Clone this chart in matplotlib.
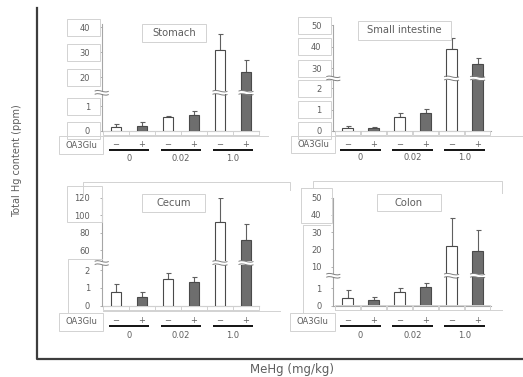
import numpy as np
import matplotlib
matplotlib.use('Agg')
import matplotlib.pyplot as plt
from matplotlib.patches import Rectangle, PathPatch
from matplotlib.path import Path
from matplotlib.lines import Line2D
from matplotlib.transforms import Affine2D, IdentityTransform, blended_transform_factory

# DATA (mean and upper SD per tissue, order: 0-, 0+, 0.02-, 0.02+, 1.0-, 1.0+)
groups = ['0', '0.02', '1.0']
oa3glu = ['\u2212', '+', '\u2212', '+', '\u2212', '+']
stomach = [0.17, 0.21, 0.55, 0.66, 31.0, 22.3]
stomach_sd = [0.10, 0.15, 0.07, 0.13, 6.2, 4.7]
small_int = [0.15, 0.14, 0.64, 0.83, 39.2, 32.0]
small_int_sd = [0.08, 0.05, 0.19, 0.20, 4.8, 2.6]
cecum = [0.78, 0.50, 1.50, 1.34, 91.8, 71.5]
cecum_sd = [0.42, 0.25, 0.33, 0.27, 27.5, 18.3]
colon = [0.45, 0.31, 0.75, 1.04, 22.2, 19.0]
colon_sd = [0.44, 0.16, 0.27, 0.23, 15.9, 12.4]

W, H = 523, 377
TXT = '#5e5e5e'
EDGE = '#4a4a4a'
DARK = '#6e6e6e'
BOX = '#d2d2d2'
AXC = '#a6a6a6'

plt.rcParams['font.family'] = ['DejaVu Sans']

fig = plt.figure(figsize=(W / 100, H / 100), dpi=100)
pix = Affine2D().scale(1, -1).translate(0, H)   # reference pixels, y downward
ident = IdentityTransform()


def piecewise(b1, b2, s1, s2):
    p = b1 * s1

    def fwd(y):
        y = np.asarray(y, dtype=float)
        return np.where(y <= b1, y * s1, np.where(y >= b2, p + (y - b2) * s2, p))

    def inv(v):
        v = np.asarray(v, dtype=float)
        return np.where(v <= p, v / s1, b2 + (v - p) / s2)
    return fwd, inv


def squiggle(x0, x1, y, gap=3.2, amp=1.3):
    # break mark in display coords
    fig.add_artist(Rectangle((x0, y - gap / 2), x1 - x0, gap, transform=ident,
                             fc='white', ec='none', zorder=6))
    for dy in (-gap / 2, gap / 2):
        w = x1 - x0
        verts = [(x0, y + dy), (x0 + w / 3, y + dy + 2 * amp),
                 (x0 + 2 * w / 3, y + dy - 2 * amp), (x1, y + dy)]
        codes = [Path.MOVETO, Path.CURVE4, Path.CURVE4, Path.CURVE4]
        fig.add_artist(PathPatch(Path(verts, codes), fc='none', ec='#7f7f7f',
                                 lw=0.7, transform=ident, zorder=7))


def rect(x0, y0, x1, y1, fc='none', z=4):
    fig.add_artist(Rectangle((x0, y0), x1 - x0, y1 - y0, transform=pix,
                             fc=fc, ec=BOX, lw=0.7, zorder=z))


def gline(xs, ys, c=BOX, lw=0.7):
    fig.add_artist(Line2D(xs, ys, transform=pix, color=c, lw=lw, zorder=4))


panels = [
    dict(name='Stomach', mean=stomach, sd=stomach_sd, left=101.7, base=131.0,
         s1=24.8, b1=1.54, b2=13.8, s2=2.5, top=41.5,
         lo=[0, 1], hi=[20, 30, 40], tbox=(141.7, 24.3, 206, 42.3),
         obox=(59.3, 136, 103.3, 154), rows=(13.3, 19, 27.5), lend=268),
    dict(name='Small intestine', mean=small_int, sd=small_int_sd, left=333.3, base=131.0,
         s1=21.3, b1=2.47, b2=25.4, s2=2.165, top=50,
         lo=[0, 1, 2], hi=[30, 40, 50], tbox=(357.7, 20.7, 450.7, 40),
         obox=(291, 136, 335, 153.3), rows=(13.3, 19, 26.5), lend=523),
    dict(name='Cecum', mean=cecum, sd=cecum_sd, left=101.7, base=305.7,
         s1=17.85, b1=2.39, b2=45.1, s2=0.872, top=120,
         lo=[0, 1, 2], hi=[60, 80, 100, 120], tbox=(141.7, 194, 205, 211.7),
         obox=(59.3, 313.3, 103.3, 330.7), rows=(15, 20, 29.5), lend=280),
    dict(name='Colon', mean=colon, sd=colon_sd, left=333.3, base=305.5,
         s1=17.5, b1=1.7, b2=4.8, s2=1.73, top=50,
         lo=[0, 1], hi=[10, 20, 30, 40, 50], tbox=(376.7, 194, 440.7, 211.3),
         obox=(290, 312.7, 335, 330.7), rows=(15, 20, 30), lend=501.7),
]

x = np.arange(6)
xlo, xhi = -0.55, 5.5
unit = 26.0
fig.canvas.draw()

for pnl in panels:
    fwd, inv = piecewise(pnl['b1'], pnl['b2'], pnl['s1'], pnl['s2'])
    hpx = float(fwd(pnl['top']))
    wpx = (xhi - xlo) * unit
    ax = fig.add_axes([pnl['left'] / W, 1 - pnl['base'] / H, wpx / W, hpx / H])
    ax.set_yscale('function', functions=(fwd, inv))
    ax.set_xlim(xlo, xhi)
    ax.set_ylim(0, pnl['top'])
    ax.patch.set_alpha(0)

    colors = ['white' if s != '+' else DARK for s in oa3glu]
    ax.bar(x, pnl['mean'], width=0.42, color=colors, edgecolor=EDGE, linewidth=0.8, zorder=3)
    ax.errorbar(x, pnl['mean'], yerr=[np.zeros(6), pnl['sd']], fmt='none',
                ecolor='#606060', elinewidth=0.8, capsize=1.8, capthick=0.8, zorder=2)

    for side in ('top', 'right'):
        ax.spines[side].set_visible(False)
    ax.spines['left'].set_color(AXC)
    ax.spines['bottom'].set_color(AXC)
    ax.spines['left'].set_linewidth(0.8)
    ax.spines['bottom'].set_linewidth(0.8)
    ticks = pnl['lo'] + pnl['hi']
    ax.set_yticks(ticks)
    ax.set_yticklabels([str(t) for t in ticks])
    ax.yaxis.set_minor_locator(matplotlib.ticker.NullLocator())
    ax.set_xticks([])
    ax.tick_params(axis='y', length=1.5, width=0.6, color=AXC, labelsize=6,
                   labelcolor=TXT, pad=7)

    # sign row, underlines and dose labels below the axis
    blend = blended_transform_factory(ax.transData, ax.transAxes)
    ys, yl, yg = [-r / hpx for r in pnl['rows']]
    for xi, s in zip(x, oa3glu):
        ax.text(xi, ys, s, transform=blend, ha='center', va='center',
                fontsize=6, color=TXT, clip_on=False)
    for gi, g in enumerate(groups):
        gc = 2 * gi + 0.5
        ax.plot([gc - 0.78, gc + 0.78], [yl, yl], transform=blend, color='black',
                lw=1.3, clip_on=False, solid_capstyle='butt')
        ax.text(gc, yg, g, transform=blend, ha='center', va='center',
                fontsize=6, color=TXT, clip_on=False)

    fig.canvas.draw()
    # slot boxes under the bars
    for xi in x:
        (dx0, dy0), (dx1, _) = ax.transData.transform([(xi - 0.495, 0), (xi + 0.495, 0)])
        fig.add_artist(Rectangle((dx0, dy0 - 4.3), dx1 - dx0, 4.3, transform=ident,
                                 fc='none', ec=BOX, lw=0.7, zorder=4))
    gline([pnl['obox'][2], pnl['lend']], [pnl['base'] + 4.8] * 2)

    # break marks on axis and on the tall bars
    (sx, by), = ax.transData.transform([(xlo, pnl['b1'])])
    squiggle(sx - 7, sx + 7, by)
    for xi in x[4:]:
        (bx0, by0), (bx1, _) = ax.transData.transform([(xi - 0.21, pnl['b1']), (xi + 0.21, pnl['b1'])])
        squiggle(bx0 - 2, bx1 + 2, by0)

    # tick label frames
    if pnl['name'] in ('Stomach', 'Small intestine'):
        for t in ticks:
            (_, ty), = ax.transData.transform([(xlo, t)])
            typ = H - ty
            rect(pnl['left'] - 35, typ - 8.5, pnl['left'] - 2, typ + 8.5)

    tb = pnl['tbox']
    rect(*tb, fc='white', z=8)
    fig.text((tb[0] + tb[2]) / 2 / W, 1 - (tb[1] + tb[3]) / 2 / H, pnl['name'],
             ha='center', va='center', fontsize=7.2, color=TXT, zorder=9)
    ob = pnl['obox']
    rect(*ob)
    fig.text((ob[0] + ob[2]) / 2 / W, 1 - (ob[1] + ob[3]) / 2 / H, 'OA3Glu',
             ha='center', va='center', fontsize=6, color=TXT, zorder=9)

# leftover frames of the lower panels
rect(66.7, 186, 101.7, 221.7)
gline([68.3, 68.3, 101.7], [313.3, 259.3, 259.3])
gline([83.3, 83.3, 290, 290], [196.7, 181.7, 181.7, 190])
rect(300.7, 188.3, 331.7, 223.3)
gline([302.7, 302.7, 330], [312.7, 225, 225])
gline([300.7, 313.3, 313.3, 501.7, 501.7], [188.3, 188.3, 180.7, 180.7, 193.3])

# outer frame and shared labels
gline([37, 37, 523], [8, 358.5, 358.5], c='#3d3d3d', lw=1.6)
fig.text(16.7 / W, 1 - 161 / H, 'Total Hg content (ppm)', rotation=90,
         ha='center', va='center', fontsize=7.0, color=TXT,
         family=['Liberation Sans Narrow', 'DejaVu Sans'])
fig.text(291.7 / W, 1 - 370 / H, 'MeHg (mg/kg)', ha='center', va='center',
         fontsize=8.5, color=TXT)

fig.savefig('out.png', dpi=100)
